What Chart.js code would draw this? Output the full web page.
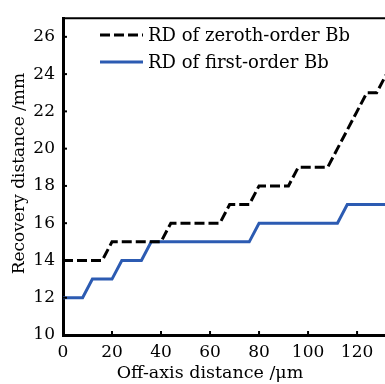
<!DOCTYPE html>
<html>
<head>
<meta charset="utf-8">
<script src="https://cdn.jsdelivr.net/npm/chart.js@4/dist/chart.umd.min.js"></script>
<style>
  html, body { margin: 0; padding: 0; background: #fff; overflow: hidden; }
  #wrap { width: 385px; height: 384px; }
</style>
</head>
<body>
<div id="wrap"><canvas id="myChart" width="385" height="384"></canvas></div>
<script>
// Off-axis distance samples (um)
const offAxis = [0, 4, 8, 12, 16, 20, 24, 28, 32, 36, 40, 44, 48, 52, 56, 60, 64,
  68, 72, 76, 80, 84, 88, 92, 96, 100, 104, 108, 112, 116, 120, 124, 128, 132];

// Recovery distance (mm) for the zeroth-order beam
const zerothOrder = [14, 14, 14, 14, 14, 15, 15, 15, 15, 15, 15, 16, 16, 16, 16, 16, 16,
  17, 17, 17, 18, 18, 18, 18, 19, 19, 19, 19, 20, 21, 22, 23, 23, 24];

// Recovery distance (mm) for the first-order beam
const firstOrder = [12, 12, 12, 13, 13, 13, 14, 14, 14, 15, 15, 15, 15, 15, 15, 15, 15,
  15, 15, 15, 16, 16, 16, 16, 16, 16, 16, 16, 16, 17, 17, 17, 17, 17];

const xTicks = [0, 20, 40, 60, 80, 100, 120];
const yTicks = [10, 12, 14, 16, 18, 20, 22, 24, 26];

const seriesLabels = ['RD of zeroth-order Bb', 'RD of first-order Bb'];
const xTitle = 'Off-axis distance /\u03bcm';
const yTitle = 'Recovery distance /mm';

const FONT = '"DejaVu Serif", serif';

function toPoints(values) {
  return offAxis.map((x, i) => ({ x: x, y: values[i] }));
}

// Short inward tick marks, the top frame line, the legend and axis titles
const framePlugin = {
  id: 'frame',
  afterDatasetsDraw(chart) {
    const ctx = chart.ctx;
    const area = chart.chartArea;
    const xs = chart.scales.x;
    const ys = chart.scales.y;

    ctx.save();
    ctx.strokeStyle = '#000';
    ctx.lineWidth = 2;
    ctx.beginPath();
    ctx.moveTo(area.left, area.top);
    ctx.lineTo(area.right, area.top);
    ctx.stroke();

    xTicks.forEach(v => {
      const px = xs.getPixelForValue(v);
      ctx.beginPath();
      ctx.moveTo(px, area.bottom);
      ctx.lineTo(px, area.bottom - 4);
      ctx.stroke();
    });
    yTicks.forEach(v => {
      const py = ys.getPixelForValue(v);
      ctx.beginPath();
      ctx.moveTo(area.left, py);
      ctx.lineTo(area.left + 4, py);
      ctx.stroke();
    });

    // legend
    ctx.font = '18px ' + FONT;
    ctx.textBaseline = 'middle';
    ctx.textAlign = 'left';
    chart.data.datasets.forEach((ds, i) => {
      const y = 35 + i * 27;
      ctx.strokeStyle = ds.borderColor;
      ctx.lineWidth = ds.borderWidth;
      ctx.setLineDash(ds.borderDash || []);
      ctx.beginPath();
      ctx.moveTo(100, y);
      ctx.lineTo(143, y);
      ctx.stroke();
      ctx.setLineDash([]);
      ctx.fillStyle = '#000';
      ctx.fillText(ds.label, 148, y + 1);
    });

    // axis titles
    ctx.textAlign = 'center';
    ctx.font = '17.5px ' + FONT;
    ctx.fillText(xTitle, xs.getPixelForValue(60), 373);
    ctx.font = '17px ' + FONT;
    ctx.translate(20, (area.top + area.bottom) / 2 - 3);
    ctx.rotate(-Math.PI / 2);
    ctx.fillText(yTitle, 0, 0);
    ctx.restore();
  }
};

function initializeChart() {
  const ctx = document.getElementById('myChart').getContext('2d');
  return new Chart(ctx, {
    type: 'line',
    data: {
      datasets: [
        {
          label: seriesLabels[0],
          data: toPoints(zerothOrder),
          borderColor: '#000000',
          borderWidth: 3,
          borderDash: [10, 4],
          pointRadius: 0,
          tension: 0
        },
        {
          label: seriesLabels[1],
          data: toPoints(firstOrder),
          borderColor: '#2c5bb2',
          borderWidth: 3,
          pointRadius: 0,
          tension: 0
        }
      ]
    },
    options: {
      responsive: false,
      animation: false,
      layout: { padding: { top: 13, right: 0, left: 0, bottom: 0 } },
      plugins: {
        legend: { display: false },
        tooltip: { enabled: false }
      },
      scales: {
        x: {
          type: 'linear',
          min: 0,
          max: 131.4,
          afterFit: scale => { scale.height = 49; },
          afterBuildTicks: scale => { scale.ticks = xTicks.map(v => ({ value: v })); },
          grid: { display: false, drawTicks: false },
          border: { display: true, color: '#000', width: 3 },
          ticks: {
            color: '#000',
            padding: 7,
            maxRotation: 0,
            font: { family: FONT, size: 17 }
          }
        },
        y: {
          min: 10,
          max: 27,
          afterFit: scale => { scale.width = 63; },
          afterBuildTicks: scale => { scale.ticks = yTicks.map(v => ({ value: v })); },
          grid: { display: false, drawTicks: false },
          border: { display: true, color: '#000', width: 3 },
          ticks: {
            color: '#000',
            padding: 8,
            font: { family: FONT, size: 17 }
          }
        }
      }
    },
    plugins: [framePlugin]
  });
}

const myChart = initializeChart();
</script>
</body>
</html>
